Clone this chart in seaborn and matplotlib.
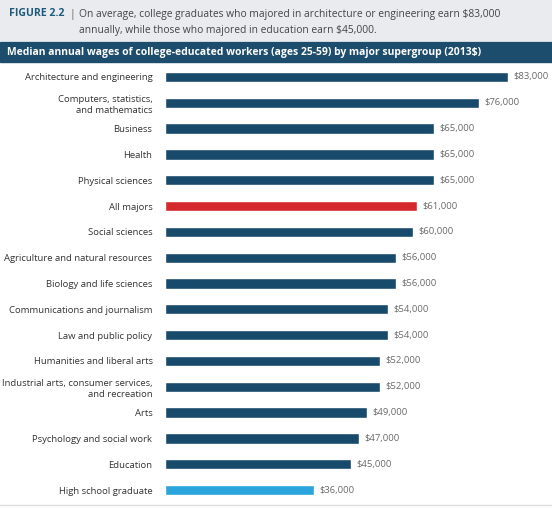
import pandas as pd
import seaborn as sns
import matplotlib.pyplot as plt
from matplotlib.patches import Rectangle

# ----- Data ----- #
majors = [
    "Architecture and engineering",
    "Computers, statistics,\nand mathematics",
    "Business",
    "Health",
    "Physical sciences",
    "All majors",
    "Social sciences",
    "Agriculture and natural resources",
    "Biology and life sciences",
    "Communications and journalism",
    "Law and public policy",
    "Humanities and liberal arts",
    "Industrial arts, consumer services,\nand recreation",
    "Arts",
    "Psychology and social work",
    "Education",
    "High school graduate",
]
wages = [83000, 76000, 65000, 65000, 65000, 61000, 60000, 56000, 56000,
         54000, 54000, 52000, 52000, 49000, 47000, 45000, 36000]

NAVY = "#184a6c"
RED = "#d4282d"
LIGHT = "#2aa5dc"
colors = [RED if m == "All majors" else LIGHT if m == "High school graduate" else NAVY
          for m in majors]

df = pd.DataFrame({"Major": majors, "Wage": wages})

sns.set_style("white")
plt.rcParams['font.family'] = ['Open Sans', 'DejaVu Sans']

fig = plt.figure(figsize=(5.52, 5.09), dpi=100)

# ----- Header ----- #
fig.patches.append(Rectangle((0.0, 1 - 40 / 509), 1.0, 40 / 509,
                             transform=fig.transFigure, color="#e9ebef", zorder=0))
fig.patches.append(Rectangle((0.0, 1 - 62 / 509), 1.0, 20 / 509,
                             transform=fig.transFigure, color="#1c4d6c", zorder=0))
fig.text(9 / 552, 1 - 14 / 509, "FIGURE 2.2", color="#1c5a7c", fontsize=7.6,
         fontweight="bold", va="center")
fig.text(70 / 552, 1 - 14 / 509, "|", color="#666666", fontsize=7.5, va="center")
fig.text(79 / 552, 1 - 14 / 509,
         "On average, college graduates who majored in architecture or engineering earn $83,000",
         color="#444444", fontsize=7.4, va="center")
fig.text(79 / 552, 1 - 30 / 509,
         "annually, while those who majored in education earn $45,000.",
         color="#444444", fontsize=7.4, va="center")
fig.text(7 / 552, 1 - 52 / 509,
         "Median annual wages of college-educated workers (ages 25-59) by major supergroup (2013$)",
         color="white", fontsize=7.5, fontweight="bold", va="center")

# ----- Bars ----- #
ax = fig.add_axes([165 / 552, 6 / 509, 385 / 552, 439 / 509])
sns.barplot(data=df, x="Wage", y="Major", hue="Major", palette=colors,
            orient="h", width=0.4, saturation=1, legend=False, ax=ax)

ax.set_xlim(0, 83000 * 385 / 343)
ax.set_ylim(len(majors) - 0.5, -0.5)
ax.set_xlabel("")
ax.set_ylabel("")
ax.set_xticks([])
ax.tick_params(axis="y", length=0, pad=9, labelsize=6.8, labelcolor="#333333")
for lbl in ax.get_yticklabels():
    lbl.set_horizontalalignment("right")
    lbl.set_multialignment("right")
    lbl.set_linespacing(1.35)
sns.despine(ax=ax, left=True, bottom=True)

for i, w in enumerate(wages):
    ax.text(w + 1300, i, f"${w:,}", va="center", ha="left",
            fontsize=6.8, color="#6a6a6a")

fig.lines.append(plt.Line2D([0, 1], [4 / 509, 4 / 509], transform=fig.transFigure,
                            color="#dddddd", lw=1))

fig.savefig("out.png", dpi=100)
